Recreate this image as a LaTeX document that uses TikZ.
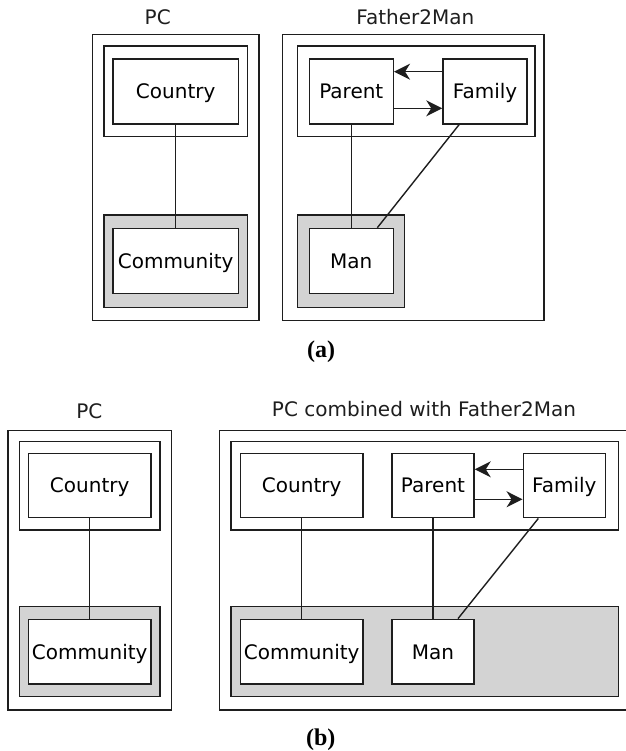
\documentclass[tikz,border=0pt]{standalone}
\usepackage{fontspec}
\setmainfont{DejaVu Sans}
\newfontfamily\capfont{Liberation Serif}
\usetikzlibrary{arrows.meta}
\definecolor{ln}{HTML}{1E1E1E}
\definecolor{shade}{HTML}{D3D3D3}
\tikzset{
  frame/.style={draw=ln,line width=1.5pt},
  shaded/.style={draw=ln,line width=1.5pt,fill=shade},
  cls/.style={draw=ln,fill=white,line width=1.5pt,inner sep=0pt,minimum height=65pt,
    font=\fontsize{20}{24}\selectfont,text height=14.6pt,text depth=0pt},
  title/.style={anchor=base,inner sep=0pt,font=\fontsize{20}{24}\selectfont,text=ln},
  caption/.style={anchor=base,inner sep=0pt,font=\capfont\bfseries\fontsize{24}{28}\selectfont},
  conn/.style={draw=ln,line width=1.4pt},
  arr/.style={draw=ln,line width=1.4pt,-{Stealth[length=16pt,width=16pt,inset=5pt]}}
}
\begin{document}
\begin{tikzpicture}[x=1pt,y=-1pt]
\useasboundingbox (0,0) rectangle (625,751);
% ---------- (a) left: PC
\node[title] (ta1) at (157.7,25) {PC};
\draw[frame] (92.7,34.3) rectangle (259,320.7);
\draw[frame] (104,46) rectangle (247.7,136.7);
\draw[shaded] (104,215) rectangle (247.7,307.3);
\node[cls,minimum width=125.3pt] (countryA) at (175.7,91.5) {Country};
\node[cls,minimum width=125.3pt] (communityA) at (175.7,261) {Community};
\draw[conn] (countryA) -- (communityA);
% ---------- (a) right: Father2Man
\node[title] (ta2) at (415.3,25) {Father2Man};
\draw[frame] (282.7,34.3) rectangle (544,320.7);
\draw[frame] (297.3,46) rectangle (535,136.7);
\draw[shaded] (297.3,215) rectangle (404.3,307.3);
\node[cls,minimum width=84pt] (parentA) at (351.3,91.5) {Parent};
\node[cls,minimum width=84pt] (familyA) at (485,91.5) {Family};
\node[cls,minimum width=84pt] (manA) at (351.3,261) {Man};
\draw[arr] ([yshift=19.8pt]familyA.west) -- ([yshift=19.8pt]parentA.east);
\draw[arr] ([yshift=-16.8pt]parentA.east) -- ([yshift=-16.8pt]familyA.west);
\draw[conn] (parentA) -- (manA);
\draw[conn] ([xshift=-26pt]familyA.south) -- ([xshift=26pt]manA.north);
\node[caption] (capA) at (321,357) {(a)};
% ---------- (b) left: PC
\node[title] (tb1) at (89.3,418.3) {PC};
\draw[frame] (8,430.3) rectangle (171.3,710);
\draw[frame] (19.3,441.3) rectangle (160,530);
\draw[shaded] (19.3,606.7) rectangle (160,696.7);
\node[cls,minimum width=122.7pt,minimum height=64.4pt] (countryB) at (89.7,485.5) {Country};
\node[cls,minimum width=122.7pt,minimum height=64.7pt] (communityB) at (89.7,651.7) {Community};
\draw[conn] (countryB) -- (communityB);
% ---------- (b) right: PC combined with Father2Man
\node[title] (tb2) at (424,416) {PC combined with Father2Man};
\draw[frame] (627,430.3) -- (219.7,430.3) -- (219.7,710) -- (627,710);
\draw[frame] (231,441.3) rectangle (618.3,530);
\draw[shaded] (231,606.7) rectangle (618.3,696.7);
\node[cls,minimum width=122.7pt,minimum height=64.4pt] (countryC) at (301.7,485.5) {Country};
\node[cls,minimum width=82pt,minimum height=64.4pt] (parentC) at (433,485.5) {Parent};
\node[cls,minimum width=82pt,minimum height=64.4pt] (familyC) at (564.3,485.5) {Family};
\node[cls,minimum width=122.7pt,minimum height=64.7pt] (communityC) at (301.7,651.7) {Community};
\node[cls,minimum width=82pt,minimum height=64.7pt] (manC) at (433,651.7) {Man};
\draw[arr] ([yshift=16.2pt]familyC.west) -- ([yshift=16.2pt]parentC.east);
\draw[arr] ([yshift=-13.8pt]parentC.east) -- ([yshift=-13.8pt]familyC.west);
\draw[conn] (countryC) -- (communityC);
\draw[conn] (parentC) -- (manC);
\draw[conn] ([xshift=-26pt]familyC.south) -- ([xshift=25pt]manC.north);
\node[caption] (capB) at (320.7,745) {(b)};
\end{tikzpicture}
\end{document}
